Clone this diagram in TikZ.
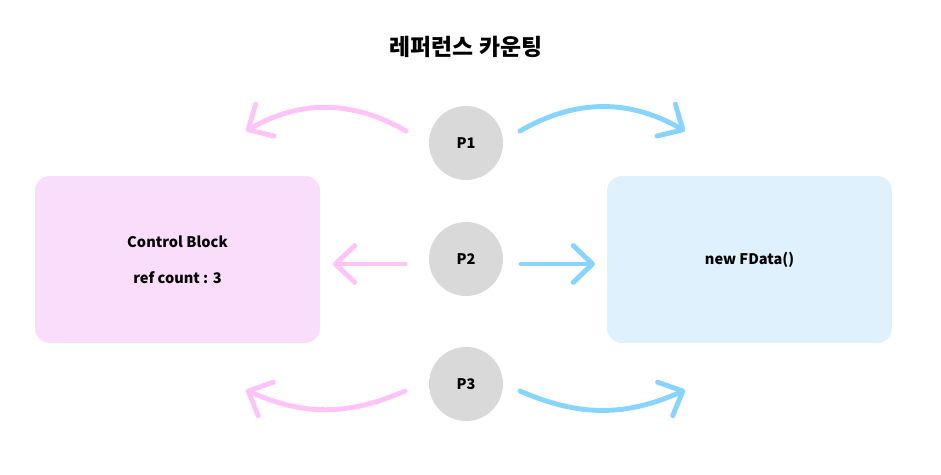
\documentclass[tikz,border=0pt]{standalone}
\usepackage{fontspec}
\setmainfont{Noto Sans CJK KR}
\newfontfamily\krfont{Noto Sans CJK KR}
\usetikzlibrary{arrows.meta,positioning}

\definecolor{pinkbox}{HTML}{F9DDFB}
\definecolor{bluebox}{HTML}{DFF1FC}
\definecolor{pinkline}{HTML}{FEC4F8}
\definecolor{blueline}{HTML}{88D4FF}
\definecolor{ptrgray}{HTML}{D9D9D9}

\begin{document}
\begin{tikzpicture}[x=0.02cm, y=-0.02cm,
		blk/.style={rectangle, rounded corners=0.3cm, minimum width=5.7cm, minimum height=3.34cm, align=center, font=\fontsize{8.3}{10}\selectfont\bfseries},
		ptr/.style={circle, fill=ptrgray, minimum size=1.48cm, inner sep=0pt, font=\fontsize{8.3}{10}\selectfont\bfseries},
		lab/.style={font=\krfont\fontsize{13}{15}\selectfont\bfseries},
		ar/.style={line width=2.8pt, line cap=round, -{Straight Barb[length=11pt, width=21pt, round]}},
		arl/.style={ar, draw=pinkline},
		arr/.style={ar, draw=blueline}
		]
		\useasboundingbox (0,0) rectangle (941,475);
		\node[lab] (title) at (466,47) {레퍼런스 카운팅};
		% blocks
		\node[blk, fill=pinkbox] (cb) at (177.5,259.5) {Control Block\\[10.5pt]ref count : 3};
		\node[blk, fill=bluebox] (data) at (749.5,259.5) {new FData()};
		% pointers
		\node[ptr] (p1) at (466,143) {P1};
		\node[ptr] (p2) at (466,259) {P2};
		\node[ptr] (p3) at (466,384) {P3};
		% arrow ends
		\coordinate (p1l) at (406,131);
		\coordinate (p1r) at (520,131);
		\coordinate (t1l) at (246,131);
		\coordinate (t1r) at (685,131);
		\coordinate (p2l) at (405,264);
		\coordinate (p2r) at (521,264);
		\coordinate (t2l) at (333,264);
		\coordinate (t2r) at (595,264);
		\coordinate (p3l) at (405,391);
		\coordinate (p3r) at (520,391);
		\coordinate (t3l) at (246,390);
		\coordinate (t3r) at (685,390);
		\draw[arl] (p1l) to[bend right=30] (t1l);
		\draw[arr] (p1r) to[bend left=30] (t1r);
		\draw[arl] (p2l) -- (t2l);
		\draw[arr] (p2r) -- (t2r);
		\draw[arl] (p3l) to[bend left=24] (t3l);
		\draw[arr] (p3r) to[bend right=24] (t3r);
	\end{tikzpicture}
\end{document}
